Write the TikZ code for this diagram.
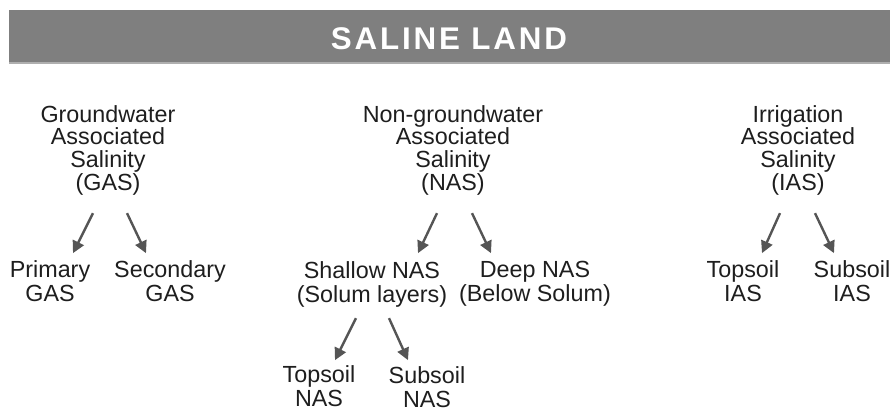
\documentclass[tikz,border=0pt]{standalone}
\usepackage{fontspec}
\setmainfont{Liberation Sans}
\usetikzlibrary{arrows.meta}
\usetikzlibrary{calc}

\definecolor{bandgray}{RGB}{127,127,127}
\definecolor{bandedge}{RGB}{175,175,175}
\definecolor{arrowgray}{RGB}{85,85,85}
\definecolor{textblack}{RGB}{30,30,30}

\tikzset{
  heading/.style={align=center, inner sep=0pt, text=textblack, font=\fontsize{17.5}{17}\selectfont},
  leaf/.style={align=center, inner sep=0pt, text=textblack, font=\fontsize{17.5}{18}\selectfont},
  arr/.style={draw=arrowgray, line width=1.8pt, -{Triangle[length=9pt,width=9pt]}}
}

\begin{document}
\begin{tikzpicture}[x=0.75pt,y=0.75pt,yscale=-1,xscale=1]
\useasboundingbox (0,0) rectangle (890,411);

%Shape: Banner
\fill [bandgray] (9,10) rectangle (890,62) ;
\draw [bandedge, line width=1.5pt] (9,62.5) -- (890,62.5) ;

% Text Node
\node (title) [text=white, font=\fontsize{23.5}{23.5}\selectfont\bfseries\addfontfeatures{LetterSpace=9}] at (449,39) {SALINE LAND};

% Text Node
\node (gas) [heading] at (108,150) {Groundwater\\Associated\\Salinity\\(GAS)};
% Text Node
\node (nas) [heading] at (453,150) {Non-groundwater\\Associated\\Salinity\\(NAS)};
% Text Node
\node (ias) [heading] at (798,150) {Irrigation\\Associated\\Salinity\\(IAS)};

% Text Node
\node (pgas) [leaf] at (50,281.5) {Primary\\GAS};
% Text Node
\node (sgas) [leaf] at (170,281.5) {Secondary\\GAS};
% Text Node
\node (snas) [leaf] at (372,284) {Shallow NAS\\(Solum layers)};
% Text Node
\node (dnas) [leaf] at (535,284) {Deep NAS\\(Below Solum)};
% Text Node
\node (tnas) [leaf] at (319,386) {Topsoil\\NAS};
% Text Node
\node (bnas) [leaf] at (427,387) {Subsoil\\NAS};
% Text Node
\node (tias) [leaf] at (743,281.5) {Topsoil\\IAS};
% Text Node
\node (bias) [leaf] at (852,281.5) {Subsoil\\IAS};

%Straight Lines: arrows
\draw [arr] ($(gas.south)+(-15,18)$) -- ($(gas.south)+(-35,58)$) ;
\draw [arr] ($(gas.south)+(19,18)$) -- ($(gas.south)+(38,58)$) ;
\draw [arr] ($(nas.south)+(-16,18)$) -- ($(nas.south)+(-35,58)$) ;
\draw [arr] ($(nas.south)+(19,18)$) -- ($(nas.south)+(38,58)$) ;
\draw [arr] ($(snas.south)+(-16,11)$) -- ($(snas.south)+(-37,53)$) ;
\draw [arr] ($(snas.south)+(17,11)$) -- ($(snas.south)+(36,53)$) ;
\draw [arr] ($(ias.south)+(-18,18)$) -- ($(ias.south)+(-36,58)$) ;
\draw [arr] ($(ias.south)+(17,18)$) -- ($(ias.south)+(36,58)$) ;

\end{tikzpicture}
\end{document}
